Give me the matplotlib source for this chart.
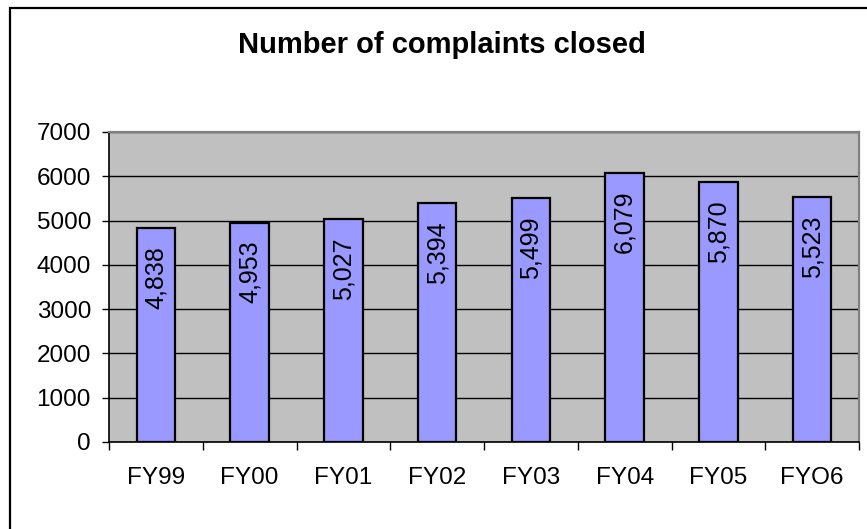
import numpy as np
import matplotlib
matplotlib.use("Agg")
import matplotlib.pyplot as plt
from matplotlib.patches import Rectangle

plt.rcParams['font.family'] = ['Liberation Sans', 'DejaVu Sans']

# data
years = ["FY99", "FY00", "FY01", "FY02", "FY03", "FY04", "FY05", "FYO6"]
closed = [4838, 4953, 5027, 5394, 5499, 6079, 5870, 5523]
y_ticks = [0, 1000, 2000, 3000, 4000, 5000, 6000, 7000]

W, H = 867, 529
fig = plt.figure(figsize=(W / 100, H / 100), dpi=100)

# outer chart frame (right/bottom edges fall outside the picture)
fig.patches.append(Rectangle((10 / W, -0.1), 1.2, 1.1 - 8 / H,
                             transform=fig.transFigure, fill=False,
                             edgecolor='black', linewidth=1.6))

ax = fig.add_axes([109 / W, (H - 442) / H, 750 / W, 310 / H])
ax.set_facecolor('#C0C0C0')

x = np.arange(len(years))
ax.bar(x, closed, width=0.41, color='#9999FF', edgecolor='black',
       linewidth=1.6, zorder=3)

for xi, v in zip(x, closed):
    ax.annotate(f"{v:,}", (xi, v), xytext=(0, -13), textcoords='offset points',
                rotation=90, ha='center', va='top', fontsize=18, zorder=4)

ax.set_xlim(-0.5, len(years) - 0.5)
ax.set_ylim(0, 7000)
ax.set_yticks(y_ticks)
ax.tick_params(axis='y', labelsize=17.5, length=5, width=1, pad=8)
ax.yaxis.grid(True, color='black', linewidth=1, zorder=0)

# ticks at category boundaries, labels at centres
ax.set_xticks(np.arange(len(years) + 1) - 0.5)
ax.set_xticklabels([])
ax.set_xticks(x, minor=True)
ax.set_xticklabels(years, minor=True)
ax.tick_params(axis='x', which='major', length=6, width=1)
ax.tick_params(axis='x', which='minor', length=0, labelsize=17.5, pad=18)

for s in ['left', 'bottom']:
    ax.spines[s].set_color('black')
    ax.spines[s].set_linewidth(1.2)
for s in ['top', 'right']:
    ax.spines[s].set_color('#808080')
    ax.spines[s].set_linewidth(1.6)

fig.text(442 / W, 1 - 45 / H, "Number of complaints closed", ha='center',
         va='center', fontsize=21, fontweight='bold')

fig.savefig("out.png", dpi=100)
